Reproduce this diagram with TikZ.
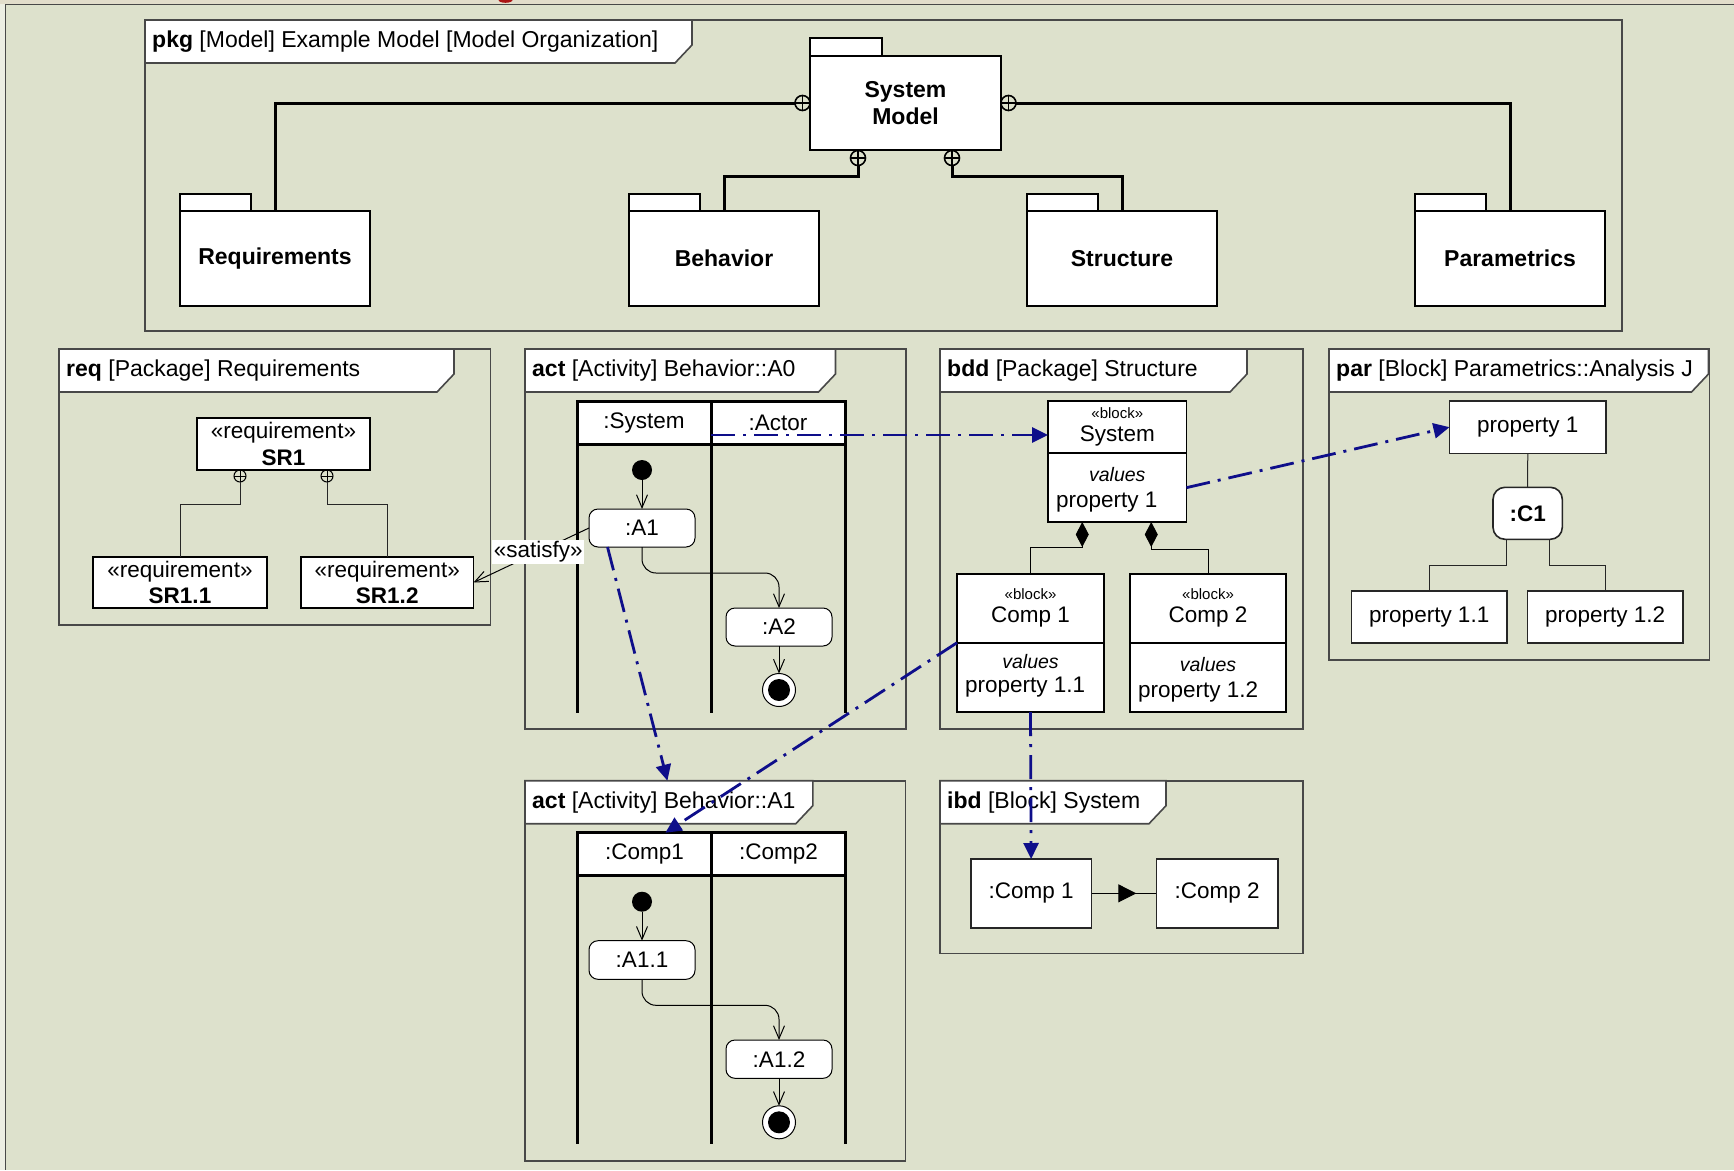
\documentclass[tikz,border=0pt]{standalone}
\usepackage{fontspec}
\setmainfont{Liberation Sans}
\usetikzlibrary{arrows.meta,calc,decorations.markings}

\definecolor{canvas}{RGB}{221,225,204}
\definecolor{rimtop}{RGB}{226,221,203}
\definecolor{framec}{RGB}{72,72,72}
\definecolor{tracec}{RGB}{14,14,138}
\definecolor{headred}{RGB}{170,20,20}

\newcommand\dgtitle{\fontsize{23}{27}\selectfont}
\newcommand\dgbody{\fontsize{22.5}{26.5}\selectfont}
\newcommand\dgsmall{\fontsize{15}{17}\selectfont}
\newcommand\dgval{\fontsize{19.5}{22}\selectfont}
\newcommand\dgpkg{\fontsize{23}{27.6}\selectfont\bfseries}
% diagram frame heading tab: left x, top y, right x
\newcommand\dgtab[3]{\draw[tabshape] (#1,#2) -- (#3,#2) -- (#3,#2+25) -- (#3-17,#2+43) -- (#1,#2+43) -- cycle;}

\tikzset{
  wh/.style 2 args={minimum width=#1pt, minimum height=#2pt},
  frm/.style={draw=framec, line width=1.6pt, anchor=north west, inner sep=0pt, outer sep=0pt},
  tabshape/.style={draw=framec, fill=white, line width=1.6pt},
  ttl/.style={anchor=west, inner sep=0pt, font=\dgtitle},
  pkgtab/.style={draw=black, fill=white, line width=1.8pt, anchor=north west, inner sep=0pt, outer sep=0pt},
  pkgbox/.style={pkgtab, font=\dgpkg, align=center},
  reqbox/.style={draw=black, fill=white, line width=1.8pt, anchor=north west, inner sep=0pt, outer sep=0pt, font=\dgbody, align=center},
  lanehead/.style={draw=black, fill=white, line width=3pt, anchor=north west, inner sep=0pt, outer sep=0pt, font=\dgbody},
  lanerule/.style={draw=black, line width=3pt},
  actbox/.style={draw=black, fill=white, line width=1pt, rounded corners=9pt, anchor=north west, inner sep=0pt, outer sep=0pt, font=\dgbody},
  startdot/.style={circle, fill=black, minimum size=20pt, inner sep=0pt, outer sep=0pt},
  enddot/.style={circle, draw=black, fill=white, line width=1pt, minimum size=33pt, inner sep=0pt, outer sep=0pt,
    path picture={\fill[black] (path picture bounding box.center) circle (11pt);}},
  flow/.style={draw=black, line width=1pt, -{Straight Barb[length=13pt,width=11pt]}},
  blockbox/.style={draw=black, fill=white, line width=1.8pt, anchor=north west, inner sep=0pt, outer sep=0pt},
  plainbox/.style={draw=black!85, fill=white, line width=1.6pt, anchor=north west, inner sep=0pt, outer sep=0pt, font=\dgbody},
  tie/.style={draw=black!85, line width=1pt},
  own/.style={draw=black, line width=3pt},
  cplus/.style={circle, draw=black, line width=1.6pt, minimum size=15pt, inner sep=0pt, outer sep=0pt,
    path picture={\draw[line width=1.6pt] (path picture bounding box.north) -- (path picture bounding box.south)
      (path picture bounding box.west) -- (path picture bounding box.east);}},
  cplussmall/.style={circle, draw=black, line width=1pt, minimum size=12pt, inner sep=0pt, outer sep=0pt,
    path picture={\draw[line width=1pt] (path picture bounding box.north) -- (path picture bounding box.south)
      (path picture bounding box.west) -- (path picture bounding box.east);}},
  compo/.style={draw=black, line width=1pt, {Diamond[length=25pt,width=13pt]}-},
  trace/.style={draw=tracec, line width=2.8pt, dash pattern=on 24pt off 8pt on 3pt off 8pt,
    -{Triangle[length=16pt,width=15pt]}},
  link/.style={draw=black, line width=1pt, postaction={decorate},
    decoration={markings, mark=at position 0.69 with {\arrow{Triangle[length=18pt,width=18pt]}}}},
  txt/.style={inner sep=0pt, font=\dgbody},
}

\begin{document}
\begin{tikzpicture}[x=1pt,y=-1pt]
\useasboundingbox (0,0) rectangle (1734,1170);

% canvas and outer window edge
\fill[canvas] (0,0) rectangle (1734,1170);
\fill[rimtop] (0,0) rectangle (1734,4);
\fill[canvas!55!white] (0,4) rectangle (5,1170);
\begin{scope}
  \clip (0,0) rectangle (1734,4);
  \fill[headred] (505.5,0) ellipse (7 and 2.8);
\end{scope}
\draw[framec, line width=1.6pt] (1734,4.5) -- (5.5,4.5) -- (5.5,1170);

% diagram frames
\node[frm, wh={1477}{311}] (fpkg) at (145,20) {};
\node[frm, wh={431.5}{276}] (freq) at (59,349) {};
\node[frm, wh={381}{380}] (fa0) at (525,349) {};
\node[frm, wh={363}{380}] (fbdd) at (940,349) {};
\node[frm, wh={380.5}{311}] (fpar) at (1329,349) {};
\node[frm, wh={380.3}{380}] (fa1) at (525,780.7) {};
\node[frm, wh={362.8}{172.6}] (fibd) at (940,780.7) {};

\dgtab{145}{20}{692}
\dgtab{59}{349}{454}
\dgtab{525}{349}{835.5}
\dgtab{940}{349}{1247}
\dgtab{1329}{349}{1708.5}
\dgtab{525}{780.7}{812.8}
\dgtab{940}{780.7}{1166}

\node[ttl] (tpkg) at (152,41.5) {\textbf{pkg} [Model] Example Model [Model Organization]};
\node[ttl] (treq) at (66,370.5) {\textbf{req} [Package] Requirements};
\node[ttl] (ta0) at (532,370.5) {\textbf{act} [Activity] Behavior::A0};
\node[ttl] (tbdd) at (947,370.5) {\textbf{bdd} [Package] Structure};
\node[ttl] (tpar) at (1336,370.5) {\textbf{par} [Block] Parametrics::Analysis J};
\node[ttl] (ta1) at (532,802.2) {\textbf{act} [Activity] Behavior::A1};
\node[ttl] (tibd) at (947,802.2) {\textbf{ibd} [Block] System};

% model organization packages
\node[pkgtab, wh={72}{18}] (smodtab) at (810,38) {};
\node[pkgbox, wh={191}{94}] (smod) at (810,56) {System\\Model};
\node[pkgtab, wh={71}{17}] (reqtab) at (180,194) {};
\node[pkgbox, wh={190}{95}] (reqp) at (180,211) {Requirements};
\node[pkgtab, wh={71}{17}] (behtab) at (629,194) {};
\node[pkgbox, wh={190}{95}] (behp) at (629,211) {Behavior};
\node[pkgtab, wh={71}{17}] (strtab) at (1027,194) {};
\node[pkgbox, wh={190}{95}] (strp) at (1027,211) {Structure};
\node[pkgtab, wh={71}{17}] (partab) at (1415,194) {};
\node[pkgbox, wh={190}{95}] (parp) at (1415,211) {Parametrics};

\node[cplus] (cpL) at (802.5,103) {};
\node[cplus] (cpR) at (1008.5,103) {};
\node[cplus] (cpB1) at (858,158) {};
\node[cplus] (cpB2) at (952,158) {};
\draw[own] (cpL.west) -| (reqp.north);
\draw[own] (cpR.east) -| (parp.north);
\draw[own] (cpB1.south) -- ++(0,10.5) -| (behp.north);
\draw[own] (cpB2.south) -- ++(0,10.5) -| (strp.north);

% requirements
\node[reqbox, wh={173}{52}] (sr1) at (197,418) {«requirement»\\\textbf{SR1}};
\node[reqbox, wh={174}{51}] (sr11) at (93,557) {«requirement»\\\textbf{SR1.1}};
\node[reqbox, wh={172.5}{51}] (sr12) at (301,557) {«requirement»\\\textbf{SR1.2}};
\node[cplussmall] (cpr1) at (240,476) {};
\node[cplussmall] (cpr2) at (327,476) {};
\draw[tie] (cpr1.south) -- ++(0,22.7) -| (sr11.north);
\draw[tie] (cpr2.south) -- ++(0,22.7) -| (sr12.north);

% activity A0
\node[lanehead, wh={134}{43}] (lnSys) at (577,401) {:System};
\node[lanehead, wh={134}{43}] (lnAct) at (711,401) {:Actor};
\draw[lanerule] (lnSys.south west) -- ++(0,269);
\draw[lanerule] (lnSys.south east) -- ++(0,269);
\draw[lanerule] (lnAct.south east) -- ++(0,269);
\node[startdot] (ini0) at (642,470) {};
\node[actbox, wh={106}{38}] (a1) at (589,509) {:A1};
\node[actbox, wh={106}{38}] (a2) at (726,608) {:A2};
\node[enddot] (fin0) at (779,690) {};
\draw[flow] (ini0.south) -- (ini0.south |- a1.north);
\draw[flow, rounded corners=14pt] (a1.south) -- ++(0,26) -| (a2.north);
\draw[flow] (a2.south) -- (fin0.north);

% block definitions
\node[blockbox, wh={138.5}{52.3}] (sysname) at (1048,401) {};
\node[blockbox, wh={138.5}{68.7}] (sysval) at (1048,453.3) {};
\node[txt, font=\dgsmall] (sysst) at (1117.25,412.7) {«block»};
\node[txt] (sysnm) at (1117.25,436) {System};
\node[txt, font=\dgval\itshape] (sysvl) at (1117.25,475) {values};
\node[txt, anchor=west] (sysp) at (1056,502) {property 1};

\node[blockbox, wh={147}{68.7}] (c1name) at (957,574) {};
\node[blockbox, wh={147}{69.3}] (c1val) at (957,642.7) {};
\node[txt, font=\dgsmall] (c1st) at (1030.5,594) {«block»};
\node[txt] (c1nm) at (1030.5,616.7) {Comp 1};
\node[txt, font=\dgval\itshape] (c1vl) at (1030.5,661.7) {values};
\node[txt, anchor=west] (c1p) at (965,686.7) {property 1.1};

\node[blockbox, wh={156}{69.3}] (c2name) at (1130,574) {};
\node[blockbox, wh={156}{68.7}] (c2val) at (1130,643.3) {};
\node[txt, font=\dgsmall] (c2st) at (1208,594) {«block»};
\node[txt] (c2nm) at (1208,616.7) {Comp 2};
\node[txt, font=\dgval\itshape] (c2vl) at (1208,665) {values};
\node[txt, anchor=west] (c2p) at (1138,691.7) {property 1.2};

\draw[compo] ($(sysval.south)+(-35,0)$) -- ++(0,25.7) -| (c1name.north);
\draw[compo] ($(sysval.south)+(34,0)$) -- ++(0,27.3) -| (c2name.north);

% parametrics
\node[plainbox, wh={156.5}{52.3}] (prop1) at (1449.5,401) {property 1};
\node[plainbox, rounded corners=12pt, wh={69.3}{52}, font=\dgbody\bfseries] (cc1) at (1493,487.3) {:C1};
\node[plainbox, wh={155.5}{51.7}] (p11) at (1351.5,591) {property 1.1};
\node[plainbox, wh={155.4}{51.7}] (p12) at (1527.4,591) {property 1.2};
\draw[tie] (prop1.south) -- (cc1.north);
\draw[tie] ($(cc1.south)+(-21.6,0)$) -- ++(0,26) -| (p11.north);
\draw[tie] ($(cc1.south)+(21.9,0)$) -- ++(0,26) -| (p12.north);

% activity A1
\node[lanehead, wh={134}{43}] (lnC1) at (577.4,832.7) {:Comp1};
\node[lanehead, wh={134}{43}] (lnC2) at (711.4,832.7) {:Comp2};
\draw[lanerule] (lnC1.south west) -- ++(0,268.3);
\draw[lanerule] (lnC1.south east) -- ++(0,268.3);
\draw[lanerule] (lnC2.south east) -- ++(0,268.3);
\node[startdot] (ini1) at (642,901.7) {};
\node[actbox, wh={106}{38.6}] (a11) at (589,940.7) {:A1.1};
\node[actbox, wh={106}{38.3}] (a12) at (726,1040) {:A1.2};
\node[enddot] (fin1) at (779,1122.3) {};
\draw[flow] (ini1.south) -- (ini1.south |- a11.north);
\draw[flow, rounded corners=14pt] (a11.south) -- ++(0,26) -| (a12.north);
\draw[flow] (a12.south) -- (fin1.north);

% internal block diagram
\node[plainbox, wh={120.8}{68.7}] (ic1) at (970.7,859) {:Comp 1};
\node[plainbox, wh={121.3}{68.7}] (ic2) at (1156.4,859) {:Comp 2};
\draw[link] (ic1.east) -- (ic2.west);

% satisfy relation
\draw[flow] (a1.west) -- (sr12.east)
  node[pos=0.44, fill=white, inner sep=1.5pt, font=\dgbody] (satlbl) {«satisfy»};

% cross-diagram traces
\coordinate (tS) at ($(lnAct.south west)+(0,-9)$);
\draw[trace] (tS) -- (tS -| sysname.west);
\draw[trace] (sysval.east) -- (prop1.west);
\draw[trace] ($(a1.south west)+(18.5,0)$) -- ($(fa1.north west)+(142.4,0)$);
\draw[trace] (c1val.north west) -- ($(lnC1.north west)+(88,0)$);
\draw[trace] (c1val.south) -- (ic1.north);
\end{tikzpicture}
\end{document}
